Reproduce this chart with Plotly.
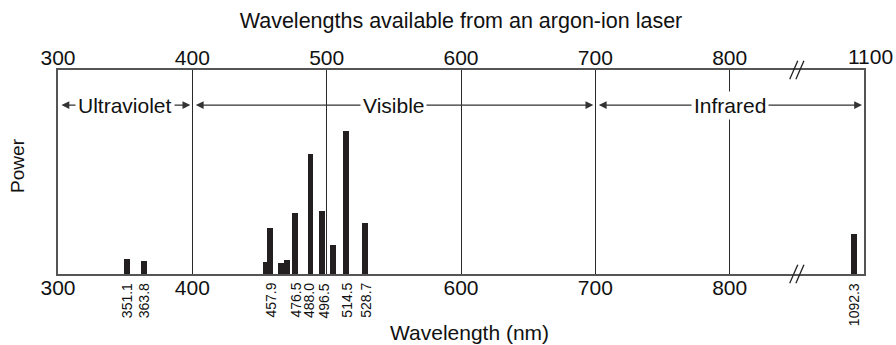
import plotly.graph_objects as go

# Argon-ion laser emission lines (nm) and relative output power (arbitrary units)
wavelengths = [351.1, 363.8, 454.5, 457.9, 465.8, 470.3, 476.5, 488.0, 496.5, 504.5, 514.5, 528.7, 1092.3]
power = [7.4, 6.4, 5.9, 22.7, 5.4, 6.9, 29.9, 59.0, 31.0, 14.4, 70.1, 25.0, 19.6]
labelled_lines = [351.1, 363.8, 457.9, 476.5, 488.0, 496.5, 514.5, 528.7, 1092.3]
# small sideways nudges (px) so neighbouring rotated labels do not collide
label_nudge = {488.0: -2, 496.5: 2}

# Axis ticks; the scale is broken between 800 and 1100 nm
tick_values = [300, 400, 500, 600, 700, 800]
bottom_hidden = [500]                # crowded by the line labels underneath
break_label = 1100
axis_end = 900                       # axis position where 1100 nm is drawn
break_shift = break_label - axis_end # wavelengths past the break move left by this
break_at = 850                       # where the // marks sit on the axis

# Spectral regions (label, start, end) in nm
regions = [("Ultraviolet", 300, 400), ("Visible", 400, 700), ("Infrared", 700, 1100)]

FONT = "Liberation Sans, Arial, Helvetica, sans-serif"
INK = "#231f20"
TEXT = "#111"


def axis_pos(nm):
    """Map a wavelength to its position on the broken axis."""
    return nm - break_shift if nm > axis_end else nm


bar_x = [axis_pos(w) for w in wavelengths]

fig = go.Figure()
fig.add_trace(go.Bar(
    x=bar_x, y=power, width=4.3,
    marker=dict(color=INK, line=dict(width=0)),
    hoverinfo="skip", showlegend=False,
))
# invisible trace so the top axis exists
fig.add_trace(go.Scatter(x=[300, axis_end], y=[0, 0], xaxis="x2", mode="markers",
                         marker=dict(opacity=0), hoverinfo="skip", showlegend=False))

annotations = []

# rotated wavelength labels under the labelled lines
for w in labelled_lines:
    annotations.append(dict(
        x=axis_pos(w), y=0, xref="x", yref="paper", yshift=-7,
        xshift=label_nudge.get(w, 0),
        xanchor="center", yanchor="top", textangle=-90, showarrow=False,
        text=f"{w:.1f}", font=dict(family=FONT, size=14, color=TEXT),
    ))

# label for the far end of the broken scale
annotations.append(dict(
    x=axis_end, y=1, xref="x", yref="paper", yshift=14, xshift=6,
    xanchor="center", yanchor="middle", showarrow=False,
    text=str(break_label), font=dict(family=FONT, size=21, color=TEXT),
))

# region arrows and labels
ARROW_Y = 0.828
for name, lo, hi in regions:
    a, b = axis_pos(lo), axis_pos(hi)
    annotations.append(dict(
        x=b, y=ARROW_Y, xref="x", yref="paper",
        ax=a, ay=0, axref="x", ayref="pixel",
        text="", showarrow=True, arrowside="end+start",
        arrowhead=2, arrowsize=1.2, arrowwidth=1.3, arrowcolor="#333",
        standoff=2, startstandoff=2,
    ))
    annotations.append(dict(
        x=(a + b) / 2, y=ARROW_Y, xref="x", yref="paper",
        xanchor="center", yanchor="middle", showarrow=False,
        text=name, bgcolor="white", borderpad=2,
        font=dict(family=FONT, size=21, color=TEXT),
    ))

# axis titles
annotations.append(dict(
    x=0.51, y=0, xref="paper", yref="paper", yshift=-58,
    xanchor="center", yanchor="middle", showarrow=False,
    text="Wavelength (nm)", font=dict(family=FONT, size=21, color=TEXT),
))
annotations.append(dict(
    x=0, y=0.53, xref="paper", yref="paper", xshift=-40,
    xanchor="center", yanchor="middle", showarrow=False, textangle=-90,
    text="Power", font=dict(family=FONT, size=19, color=TEXT),
))

# // break marks on the top and bottom edges
shapes = []
for edge in (0, 1):
    for dx in (-2.3, 2.3):
        shapes.append(dict(
            type="line", xref="x", yref="paper",
            x0=break_at + dx - 3, x1=break_at + dx + 3,
            y0=edge - 0.045, y1=edge + 0.045,
            line=dict(color="#222", width=1.3),
        ))

fig.update_layout(
    width=896, height=345,
    margin=dict(l=58, r=32, t=70, b=71),
    paper_bgcolor="white", plot_bgcolor="white",
    bargap=0,
    title=dict(text="Wavelengths available from an argon-ion laser",
               x=0.5, xref="paper", xanchor="center", y=0.942, yanchor="middle",
               font=dict(family=FONT, size=21.5, color=TEXT)),
    xaxis=dict(
        range=[300, axis_end], tickvals=tick_values,
        ticktext=["" if v in bottom_hidden else str(v) for v in tick_values],
        showgrid=True, gridcolor="#2a2a2a", gridwidth=1,
        showline=True, linecolor="#555", linewidth=1.5, mirror=True,
        ticks="", ticklabelstandoff=-6,
        tickfont=dict(family=FONT, size=21, color=TEXT),
        zeroline=False, fixedrange=True,
    ),
    xaxis2=dict(
        range=[300, axis_end], overlaying="x", side="top",
        tickvals=tick_values, ticktext=[str(v) for v in tick_values],
        showgrid=False, showline=False,
        ticks="", tickfont=dict(family=FONT, size=21, color=TEXT),
        zeroline=False, fixedrange=True,
    ),
    yaxis=dict(
        range=[0, 100], showticklabels=False, ticks="", showgrid=False,
        showline=True, linecolor="#555", linewidth=1.5, mirror=True,
        zeroline=False, fixedrange=True,
    ),
    annotations=annotations,
    shapes=shapes,
)

fig.write_html("out.html")
